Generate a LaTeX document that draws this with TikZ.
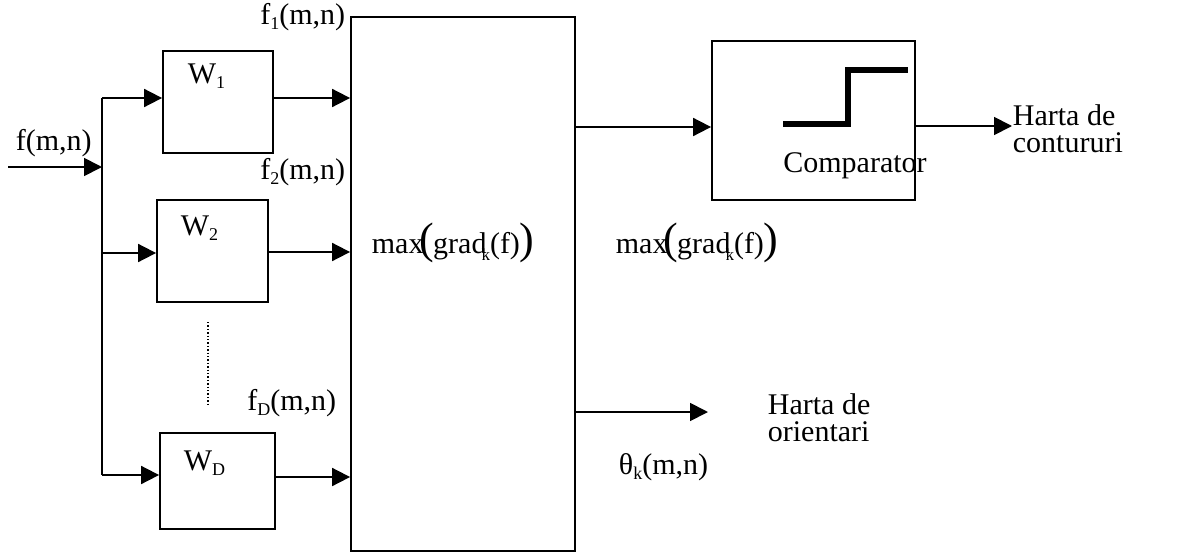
\documentclass[tikz,border=0pt]{standalone}
\usepackage{fontspec}
\setmainfont{Liberation Serif}
\usetikzlibrary{arrows.meta}
\newcommand\mysub[1]{\raisebox{-5pt}{\fontsize{18}{18}\selectfont #1}}
\newcommand\maxgradtext{max\kern-4pt{\fontsize{44}{44}\selectfont(}\kern-1pt grad\kern-5pt\raisebox{-7pt}{\fontsize{17}{17}\selectfont k}\kern0pt(f){\fontsize{44}{44}\selectfont)}}
\begin{document}
\begin{tikzpicture}[x=1pt,y=-1pt,line width=1.8pt,
  arr/.style={-{Triangle[length=18pt,width=18pt]}},
  boxn/.style={draw,line width=1.8pt,inner sep=0pt},
  lbl/.style={font=\fontsize{30}{33}\selectfont,inner sep=0pt}]
\useasboundingbox (0,0) rectangle (1186,554);
% boxes
\node[boxn,minimum width=110pt,minimum height=102pt] (w1) at (218,102) {};
\node[boxn,minimum width=111pt,minimum height=102pt] (w2) at (212.5,251) {};
\node[boxn,minimum width=115pt,minimum height=96pt] (wd) at (217.5,481) {};
\node[boxn,minimum width=224pt,minimum height=534pt] (big) at (463,284) {};
\node[boxn,minimum width=203pt,minimum height=159pt] (comp) at (813.5,120.5) {};
% box labels
\node[lbl,anchor=west] (lw1) at (187,76) {W\mysub{1}};
\node[lbl,anchor=west] (lw2) at (180,228) {W\mysub{2}};
\node[lbl,anchor=west] (lwd) at (183,463) {W\mysub{D}};
\node[lbl] (lcomp) at (855,166) {Comparator};
% bus
\coordinate (in) at (8,167);
\coordinate (bin) at (102,167);
\coordinate (b1) at (102,98);
\coordinate (b2) at (102,253);
\coordinate (bd) at (102,475);
\draw (b1) -- (bd);
\draw[arr] (in) -- (bin);
\draw[arr] (b1) -- (w1.west |- b1);
\draw[arr] (b2) -- (w2.west |- b2);
\draw[arr] (bd) -- (wd.west |- bd);
\node[lbl,anchor=west] (lf) at (15,143) {f(m,n)};
% outputs of filters
\coordinate (o1) at (273,98);
\coordinate (o2) at (268,252);
\coordinate (od) at (275,477);
\draw[arr] (o1) -- (big.west |- o1);
\draw[arr] (o2) -- (big.west |- o2);
\draw[arr] (od) -- (big.west |- od);
\node[lbl,anchor=east] (lf1) at (346,17) {f\mysub{1}(m,n)};
\node[lbl,anchor=east] (lf2) at (346,172) {f\mysub{2}(m,n)};
\node[lbl,anchor=east] (lfd) at (337,403) {f\mysub{D}(m,n)};
\draw[dotted,line width=1.4pt] (208,322) coordinate (dt) -- (208,405) coordinate (db);
% max grad
\node[lbl,anchor=west] (mg1) at (371,243) {\maxgradtext};
\node[lbl,anchor=west] (mg2) at (615,243) {\maxgradtext};
% comparator
\coordinate (c1) at (575,127);
\draw[arr] (c1) -- (comp.west |- c1);
\draw[line width=6pt] (783,124) -- (848,124) -- (848,70) -- (908,70);
\coordinate (c2) at (1012,126);
\draw[arr] (comp.east |- c2) -- (c2);
\node[lbl,anchor=west,align=left] (hc) at (1012,129) {Harta de\\[-6pt]contururi};
% orientation
\coordinate (r1) at (708,412);
\draw[arr] (big.east |- r1) -- (r1);
\node[lbl,anchor=west,align=left] (ho) at (767,418) {Harta de\\[-6pt]orientari};
\node[lbl,anchor=west] (th) at (618,467) {θ\mysub{k}(m,n)};
\end{tikzpicture}
\end{document}
